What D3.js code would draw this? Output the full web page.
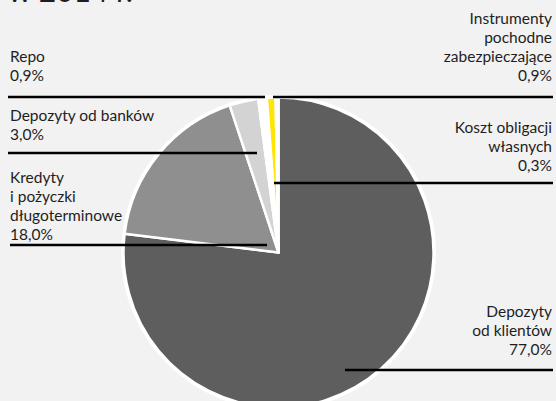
<!DOCTYPE html>
<meta charset="utf-8">
<head>
    <title>Struktura finansowania</title>
    <style>
        body { margin: 0; background: #f2f2f2; }
        text { font-family: Lato, "Noto Sans", sans-serif; fill: #1e1e1e; }
    </style>
</head>
<body>
<div id="chart"></div>
<script src="https://d3js.org/d3.v7.min.js"></script>
<script>

    // data - funding structure (% share)
    var categories = ["Depozyty od klientów", "Kredyty i pożyczki długoterminowe", "Depozyty od banków",
                      "Repo", "Instrumenty pochodne zabezpieczające", "Koszt obligacji własnych"];
    var shares = [77.0, 18.0, 3.0, 0.9, 0.9, 0.3];
    var shareLabels = ["77,0%", "18,0%", "3,0%", "0,9%", "0,9%", "0,3%"];
    var labelLines = [
        ["Depozyty", "od klientów"],
        ["Kredyty", "i pożyczki", "długoterminowe"],
        ["Depozyty od banków"],
        ["Repo"],
        ["Instrumenty", "pochodne", "zabezpieczające"],
        ["Koszt obligacji", "własnych"]
    ];
    var sliceColors = ["#5e5e5e", "#8f8f8f", "#d3d3d3", "#ffffff", "#ffe500", "#fafafa"];

    // label placement (text anchor point, leader line)
    var layout = [
        {tx: 552, ty: 317, anchor: "end",   x1: 345, x2: 553, ly: 370},
        {tx: 10,  ty: 183, anchor: "start", x1: 10,  x2: 267, ly: 245},
        {tx: 10,  ty: 121, anchor: "start", x1: 8,   x2: 257, ly: 153},
        {tx: 10,  ty: 62,  anchor: "start", x1: 8,   x2: 265, ly: 97},
        {tx: 552, ty: 24,  anchor: "end",   x1: 273, x2: 553, ly: 97},
        {tx: 552, ty: 133, anchor: "end",   x1: 274, x2: 553, ly: 183}
    ];

    var width = 556, height = 401;
    var cx = 278.5, cy = 252.5, radius = 155;
    var lineHeight = 19;

    var svg = d3.select("#chart")
        .append("svg")
        .attr("width", width)
        .attr("height", height);

    svg.append("rect")
        .attr("width", width)
        .attr("height", height)
        .style("fill", "#f2f2f2");

    // title (only its lower edge shows at the top of the picture)
    svg.append("text")
        .attr("x", 8)
        .attr("y", 2)
        .style("font-size", "30px")
        .text("w 2014 r.");

    var pie = d3.pie()
        .sort(null)
        .value(function(d) { return d; });

    var arc = d3.arc()
        .innerRadius(0)
        .outerRadius(radius);

    var g = svg.append("g")
        .attr("transform", "translate(" + cx + "," + cy + ")");

    // white outer ring
    g.append("circle")
        .attr("r", radius + 2.5)
        .style("fill", "#ffffff");

    g.selectAll("path")
        .data(pie(shares))
        .enter()
        .append("path")
        .attr("d", arc)
        .style("fill", function(d, i) { return sliceColors[i]; })
        .style("stroke", "#ffffff")
        .style("stroke-width", 2.5)
        .style("stroke-linejoin", "round");

    // leader lines
    svg.selectAll(".leader")
        .data(layout)
        .enter()
        .append("line")
        .attr("class", "leader")
        .attr("x1", function(d) { return d.x1; })
        .attr("x2", function(d) { return d.x2; })
        .attr("y1", function(d) { return d.ly; })
        .attr("y2", function(d) { return d.ly; })
        .style("stroke", "#000")
        .style("stroke-width", 2.5);

    // labels
    categories.forEach(function(c, i) {
        var l = layout[i];
        var rows = labelLines[i].concat([shareLabels[i]]);
        var t = svg.append("text")
            .attr("text-anchor", l.anchor)
            .style("font-size", "15.5px");
        rows.forEach(function(r, j) {
            t.append("tspan")
                .attr("x", l.tx)
                .attr("y", l.ty + j * lineHeight)
                .text(r);
        });
    });

</script>
</body>
